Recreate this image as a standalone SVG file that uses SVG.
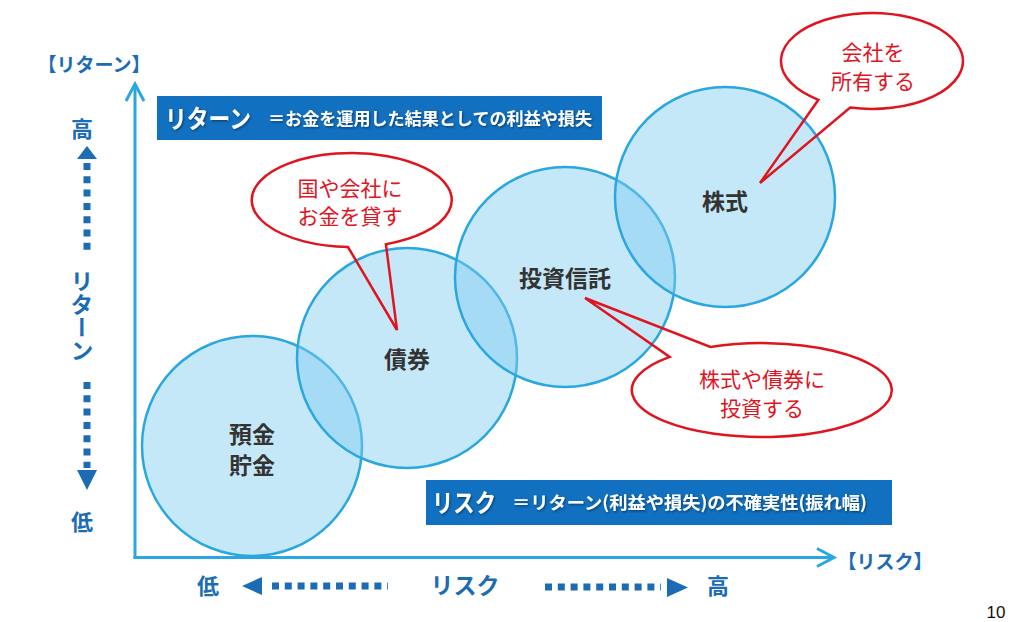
<svg xmlns="http://www.w3.org/2000/svg" width="1024" height="622" viewBox="0 0 1024 622">
<defs>
<style>
.jp{font-family:"Noto Sans CJK JP","Noto Sans",sans-serif}
.axis{stroke:#2aa7e0;stroke-width:3;fill:none}
.circ{fill:#7fcdf0;fill-opacity:0.45;stroke:#2aa7e0;stroke-width:2.5}
.bub{fill:none;stroke:#e0141e;stroke-width:2.5;stroke-linejoin:miter}
.btxt{fill:#e0141e;font-size:21px;text-anchor:middle;dominant-baseline:central}
.ctxt{fill:#333;font-size:23px;font-weight:bold;text-anchor:middle;dominant-baseline:central}
.blue{fill:#1c6cb5;font-weight:bold;text-anchor:middle;dominant-baseline:central}
.dots{stroke:#1c6cb5;stroke-width:7;fill:none}
.tri{fill:#1c6cb5}
.box{fill:#1170c0}
.wt{fill:#fff;font-weight:bold}
</style>
<filter id="sh" x="-5%" y="-20%" width="110%" height="140%"><feDropShadow dx="1" dy="1.2" stdDeviation="0.8" flood-color="#000" flood-opacity="0.45"/></filter>
</defs>
<rect width="1024" height="622" fill="#fff"/>

<g id="axes">
<line class="axis" x1="135" y1="86" x2="135" y2="559"/>
<polyline class="axis" points="126,101 135,84 144,101"/>
<line class="axis" x1="133.5" y1="557.5" x2="831" y2="557.5"/>
<polyline class="axis" points="817,548.5 834,557.5 817,566.5"/>
</g>

<g id="axis-labels" class="jp">
<text class="blue" x="94" y="63" font-size="19">【リターン】</text>
<text class="blue" x="885" y="560" font-size="19">【リスク】</text>
<text class="blue" x="82" y="127" font-size="22">高</text>
<text class="blue" x="82" y="520" font-size="22">低</text>
<text class="blue" x="82" y="270" font-size="23" style="writing-mode:vertical-rl;text-anchor:start">リターン</text>
<polygon class="tri" points="87,146 77,159 97,159"/>
<line class="dots" x1="87" y1="163" x2="87" y2="250" stroke-dasharray="7 6.3"/>
<line class="dots" x1="87" y1="382" x2="87" y2="468" stroke-dasharray="7 6.3"/>
<polygon class="tri" points="87,490 77,470 97,470"/>
<text class="blue" x="208" y="584" font-size="22">低</text>
<text class="blue" x="465" y="584" font-size="23">リスク</text>
<text class="blue" x="718" y="584" font-size="22">高</text>
<polygon class="tri" points="242,586 262,577 262,595"/>
<line class="dots" x1="272" y1="586" x2="388" y2="586" stroke-dasharray="7 5.8"/>
<line class="dots" x1="545" y1="587" x2="661" y2="587" stroke-dasharray="7 5.8"/>
<polygon class="tri" points="688,587.5 667,578 667,597"/>
</g>

<g id="box-return">
<rect class="box" x="157" y="96" width="445" height="44"/>
<g filter="url(#sh)">
<text class="jp wt" x="165" y="127.5" font-size="25" textLength="86" lengthAdjust="spacingAndGlyphs">リターン</text>
<text class="jp wt" x="268" y="124.5" font-size="17" textLength="324" lengthAdjust="spacingAndGlyphs">＝お金を運用した結果としての利益や損失</text>
</g>
</g>

<g id="box-risk">
<rect class="box" x="426" y="480" width="466" height="45"/>
<g filter="url(#sh)">
<text class="jp wt" x="432" y="512" font-size="25" textLength="64" lengthAdjust="spacingAndGlyphs">リスク</text>
<text class="jp wt" x="512" y="509" font-size="17.5" textLength="355" lengthAdjust="spacingAndGlyphs">＝リターン(利益や損失)の不確実性(振れ幅)</text>
</g>
</g>

<g id="node-deposit">
<circle class="circ" cx="252" cy="446" r="110"/>
</g>
<g id="node-bond">
<circle class="circ" cx="407" cy="358" r="110"/>
</g>
<g id="node-fund">
<circle class="circ" cx="565" cy="277" r="110"/>
</g>
<g id="node-stock">
<circle class="circ" cx="725" cy="197" r="110"/>
</g>

<g id="node-labels" class="jp">
<text class="ctxt" x="252" y="433">預金</text>
<text class="ctxt" x="252" y="464">貯金</text>
<text class="ctxt" x="407" y="358">債券</text>
<text class="ctxt" x="565" y="277">投資信託</text>
<text class="ctxt" x="725" y="200">株式</text>
</g>

<g id="bubble-stock">
<path class="bub" d="M850.2 107.6 A91 48 0 1 0 818.4 99.8 L760 183 Z"/>
<text class="jp btxt" x="873" y="51">会社を</text>
<text class="jp btxt" x="873" y="80">所有する</text>
</g>
<g id="bubble-bond">
<path class="bub" d="M385.9 244.2 A100 47 0 1 0 348 247 L397 330 Z"/>
<text class="jp btxt" x="350" y="187">国や会社に</text>
<text class="jp btxt" x="350" y="215">お金を貸す</text>
</g>
<g id="bubble-fund">
<path class="bub" d="M669.7 356.9 A130 47 0 1 0 710.4 346.9 L585 298 Z"/>
<text class="jp btxt" x="762" y="378">株式や債券に</text>
<text class="jp btxt" x="762" y="407">投資する</text>
</g>

<text x="996" y="612" font-family="'Liberation Sans',Arial,sans-serif" font-size="17" fill="#111" text-anchor="middle" dominant-baseline="central">10</text>
</svg>
